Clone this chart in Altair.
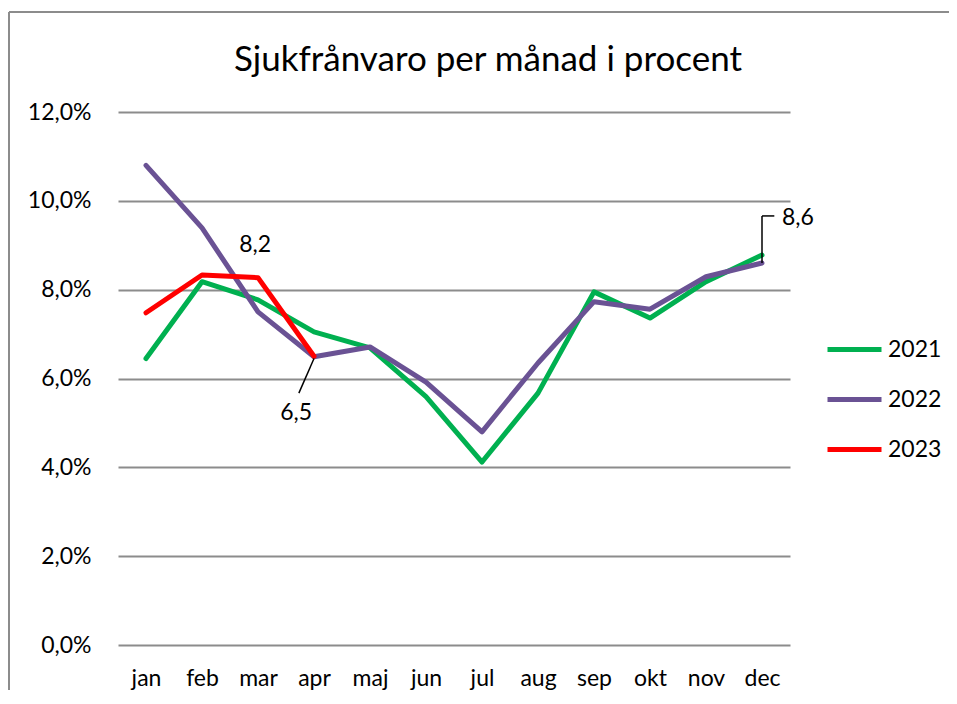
import altair as alt
import pandas as pd

months = ["jan", "feb", "mar", "apr", "maj", "jun", "jul", "aug", "sep", "okt", "nov", "dec"]
v2021 = [6.45, 8.18, 7.77, 7.05, 6.69, 5.59, 4.12, 5.67, 7.95, 7.36, 8.18, 8.78]
v2022 = [10.8, 9.39, 7.5, 6.49, 6.71, 5.92, 4.8, 6.35, 7.73, 7.56, 8.29, 8.6]
v2023 = [7.48, 8.33, 8.27, 6.5]
series_names = ["2021", "2022", "2023"]
series_colors = ["#00B050", "#6A5294", "#FF0000"]

# annotations
ann_text = ["8,2", "6,5", "8,6"]
ann_x = [2.95, 3.68, 12.64]
ann_y = [9.0, 5.23, 9.62]
# leader segments (x, y, x2, y2) in data units
lead_x = [4.0, 12.0, 12.0]
lead_y = [6.45, 8.6, 9.66]
lead_x2 = [3.73, 12.0, 12.22]
lead_y2 = [5.67, 9.66, 9.66]

FONT = "Lato, sans-serif"

rows = []
for name, vals in zip(series_names, [v2021, v2022, v2023]):
    for i, v in enumerate(vals):
        rows.append({"serie": name, "m": i + 1, "v": v})
df = pd.DataFrame(rows)

xs = alt.Scale(domain=[0.5, 12.5], nice=False, zero=False)
ys = alt.Scale(domain=[0, 12], nice=False)

month_expr = "[" + ",".join("'" + m + "'" for m in months) + "][datum.value - 1]"

lines = alt.Chart(df).mark_line(strokeWidth=5, strokeCap="round", strokeJoin="round").encode(
    x=alt.X("m:Q", scale=xs, axis=alt.Axis(
        values=list(range(1, 13)), labelExpr=month_expr, title=None, grid=False,
        domain=False, ticks=False, labelPadding=22, labelFontSize=23, labelFont=FONT,
        labelColor="black", labelBaseline="top", labelFlush=False)),
    y=alt.Y("v:Q", scale=ys, axis=alt.Axis(
        values=[0, 2, 4, 6, 8, 10, 12], title=None, grid=True, gridColor="#8c8c8c",
        gridWidth=2, domain=False, ticks=False, labelPadding=27, labelFontSize=23,
        labelFont=FONT, labelColor="black",
        labelExpr="replace(format(datum.value, '.1f'), '.', ',') + '%'")),
    color=alt.Color("serie:N", scale=alt.Scale(domain=series_names, range=series_colors),
                    legend=alt.Legend(title=None, orient="none", legendX=707, legendY=208,
                                      symbolType="stroke", symbolSize=2916, symbolStrokeWidth=5,
                                      labelFontSize=23, labelFont=FONT, labelColor="black",
                                      rowPadding=8, padding=0, labelOffset=4)),
)

ann_df = pd.DataFrame({"t": ann_text, "x": ann_x, "y": ann_y})
texts = alt.Chart(ann_df).mark_text(fontSize=23, font=FONT, color="black", baseline="middle").encode(
    x=alt.X("x:Q", scale=xs), y=alt.Y("y:Q", scale=ys), text="t:N")

lead_df = pd.DataFrame({"x": lead_x, "y": lead_y, "x2": lead_x2, "y2": lead_y2})
leaders = alt.Chart(lead_df).mark_rule(color="black", strokeWidth=1.5).encode(
    x=alt.X("x:Q", scale=xs), y=alt.Y("y:Q", scale=ys), x2="x2:Q", y2="y2:Q")

frame_left = alt.Chart(pd.DataFrame({"a": [0]})).mark_rule(color="#8c8c8c", strokeWidth=2).encode(
    x=alt.value(-109), y=alt.value(-100), y2=alt.value(800))
frame_top = alt.Chart(pd.DataFrame({"a": [0]})).mark_rule(color="#8c8c8c", strokeWidth=2).encode(
    x=alt.value(-109), x2=alt.value(1000), y=alt.value(-100))

chart = alt.layer(frame_left, frame_top, lines, leaders, texts).properties(
    width=672, height=533,
    title=alt.TitleParams("Sjukfrånvaro per månad i procent", fontSize=35, font=FONT,
                          fontWeight="normal", color="black", anchor="middle", frame="group",
                          baseline="alphabetic", dx=34, offset=-95),
    autosize=alt.AutoSizeParams(type="none"),
    padding={"left": 110, "top": 104, "right": 159, "bottom": 45},
).configure_view(stroke=None).configure_scale(continuousPadding=0)

chart.save("out.html", embed_options={"renderer": "svg", "actions": False})
